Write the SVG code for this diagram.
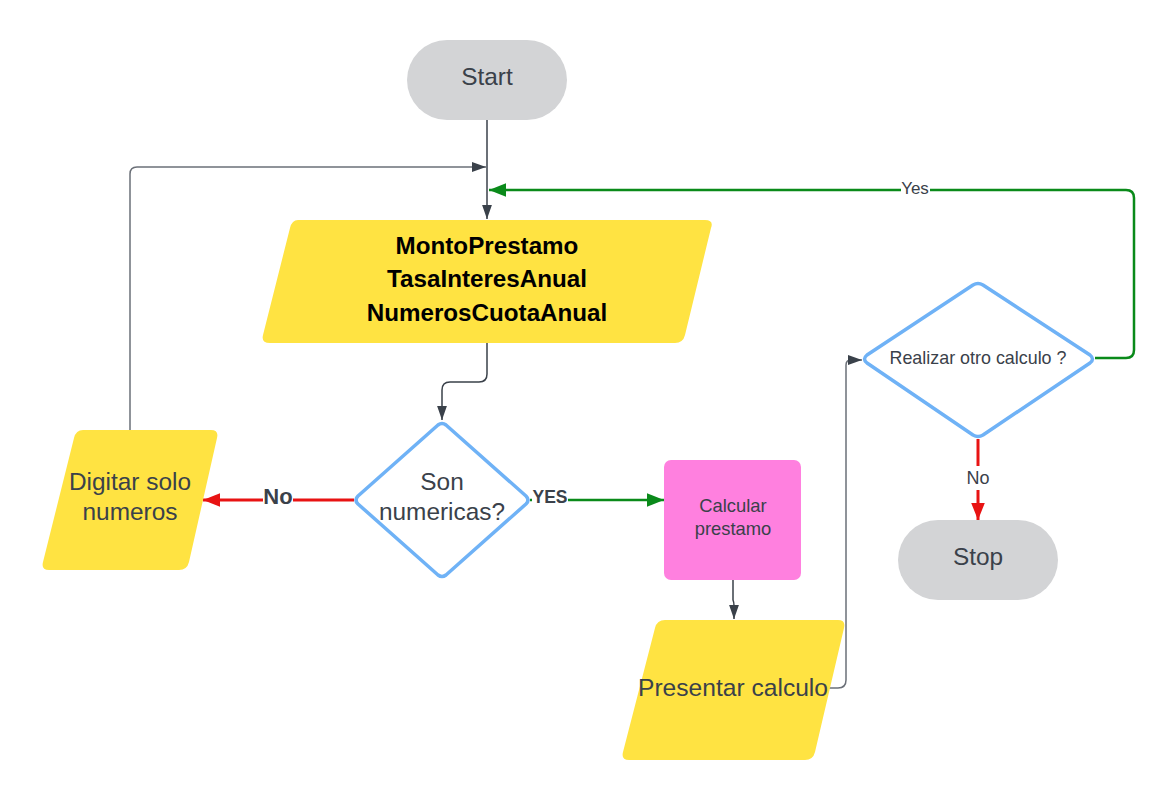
<svg xmlns="http://www.w3.org/2000/svg" width="1176" height="800" viewBox="0 0 1176 800">
<style>
.t{font-family:"Liberation Sans",Arial,sans-serif;fill:#3a414a;text-anchor:middle}
.b{font-weight:bold}
.pill{fill:#d3d4d6}
.io{fill:#ffe342}
.dec{fill:#ffffff;stroke:#6fb2f6;stroke-width:3.5;stroke-linejoin:round}
.c{fill:none;stroke-width:1.5}
.dark{stroke:#3a414a}
.grey{stroke:#6b7078}
.red{stroke:#e81313;stroke-width:3}
.green{stroke:#0a8a1a;stroke-width:2.5}
</style>
<defs>
<marker id="aDarkL" viewBox="0 0 10 10" refX="10" refY="5" markerWidth="14" markerHeight="14" markerUnits="userSpaceOnUse" orient="auto"><path d="M0,1.5 L10,5 L0,8.5 Z" fill="#3a414a"/></marker>
<marker id="aRed" viewBox="0 0 10 10" refX="10" refY="5" markerWidth="17" markerHeight="17" markerUnits="userSpaceOnUse" orient="auto"><path d="M0,1 L10,5 L0,9 Z" fill="#e81313"/></marker>
<marker id="aGreen" viewBox="0 0 10 10" refX="10" refY="5" markerWidth="17" markerHeight="17" markerUnits="userSpaceOnUse" orient="auto"><path d="M0,1 L10,5 L0,9 Z" fill="#0a8a1a"/></marker>
</defs>
<rect width="1176" height="800" fill="#ffffff"/>

<g id="connectors">
<path class="c dark" d="M487,120 V219" marker-end="url(#aDarkL)"/>
<path class="c grey" d="M130,430 V174 Q130,167 137,167 H486" marker-end="url(#aDarkL)"/>
<path class="c green" d="M1095,358 H1126 Q1134,358 1134,350 V198 Q1134,190 1126,190 H489" marker-end="url(#aGreen)"/>
<path class="c dark" d="M487,343 V374 Q487,382 479,382 H450 Q442,382 442,390 V420" marker-end="url(#aDarkL)"/>
<path class="c red" d="M354,500 H203" marker-end="url(#aRed)"/>
<path class="c green" d="M530,500 H664" marker-end="url(#aGreen)"/>
<path class="c dark" d="M733,580 V600 Q734,602 734,606 V619" marker-end="url(#aDarkL)"/>
<path class="c grey" d="M829,688 H838 Q846,688 846,680 V365 Q846,360 851,360 H862" marker-end="url(#aDarkL)"/>
<path class="c red" d="M978,439 V520" marker-end="url(#aRed)"/>
<rect x="901" y="181" width="29" height="16" fill="#ffffff"/>
<text class="t" x="915" y="194" font-size="17">Yes</text>
<rect x="263" y="488" width="30" height="18" fill="#ffffff"/>
<text class="t b" x="278" y="504" font-size="22">No</text>
<rect x="532" y="490" width="36" height="16" fill="#ffffff"/>
<text class="t b" x="550" y="503" font-size="17.5">YES</text>
<rect x="962" y="466" width="32" height="24" fill="#ffffff"/>
<text class="t" x="978" y="484" font-size="18">No</text>
</g>

<g id="start">
<rect class="pill" x="407" y="40" width="160" height="80" rx="40"/>
<text class="t" x="487" y="85" font-size="24.4">Start</text>
</g>

<g id="input">
<path class="io" d="M298,220 H705 Q714,220 711,228 L685,335 Q683,343 675,343 H270 Q261,343 263,335 L290,228 Q292,220 298,220 Z"/>
<text class="t b" x="487" y="254" font-size="24.2" style="fill:#000">MontoPrestamo</text>
<text class="t b" x="487" y="287" font-size="24.2" style="fill:#000">TasaInteresAnual</text>
<text class="t b" x="487" y="321" font-size="24.2" style="fill:#000">NumerosCuotaAnual</text>
</g>

<g id="son-numericas">
<path class="dec" d="M446,425 L526,496 Q530,500 526,504 L446,575 Q442,578 438,575 L358,504 Q354,500 358,496 L438,425 Q442,422 446,425 Z"/>
<text class="t" x="442" y="490" font-size="24.4">Son</text>
<text class="t" x="442" y="520" font-size="24.4">numericas?</text>
</g>

<g id="digitar">
<path class="io" d="M83,430 H211 Q219,430 217,438 L189,562 Q187,570 179,570 H49 Q41,570 43,562 L74,438 Q76,430 83,430 Z"/>
<text class="t" x="130" y="490" font-size="24.4">Digitar solo</text>
<text class="t" x="130" y="520" font-size="24.4">numeros</text>
</g>

<g id="calcular">
<rect x="664" y="460" width="137" height="120" rx="7" fill="#ff80df"/>
<text class="t" x="733" y="512" font-size="18.4">Calcular</text>
<text class="t" x="733" y="535" font-size="18.4">prestamo</text>
</g>

<g id="presentar">
<path class="io" d="M665,620 H838 Q846,620 844,628 L815,752 Q813,760 805,760 H629 Q621,760 623,752 L655,628 Q657,620 665,620 Z"/>
<text class="t" x="733" y="696" font-size="24.6">Presentar calculo</text>
</g>

<g id="realizar">
<path class="dec" d="M983,285 L1090,355 Q1095,359 1090,363 L983,435 Q978,438 973,435 L867,363 Q862,359 867,355 L973,285 Q978,282 983,285 Z"/>
<text class="t" x="978" y="364" font-size="17.9">Realizar otro calculo ?</text>
</g>

<g id="stop">
<rect class="pill" x="898" y="520" width="160" height="80" rx="40"/>
<text class="t" x="978" y="565" font-size="24.4">Stop</text>
</g>
</svg>
